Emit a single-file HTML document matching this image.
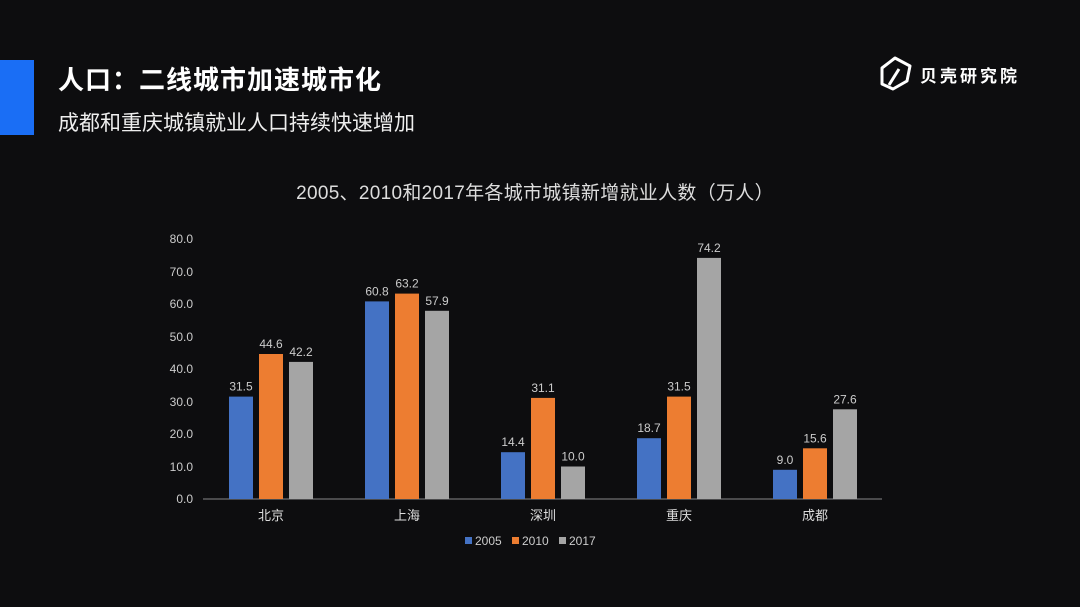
<!DOCTYPE html>
<html><head><meta charset="utf-8"><style>
html,body{margin:0;padding:0;background:#0d0d0f;}
svg{display:block}
text{font-family:"Liberation Sans","Noto Sans CJK SC",sans-serif;}
</style></head><body>
<svg width="1080" height="607" viewBox="0 0 1080 607" xmlns="http://www.w3.org/2000/svg">
<rect width="1080" height="607" fill="#0d0d0f"/>
<rect x="0" y="60" width="34" height="75" fill="#1a6ef5"/>
<text x="58" y="89" font-size="26" font-weight="bold" fill="#fff" letter-spacing="1">人口：二线城市加速城市化</text>
<text x="58" y="130" font-size="21" fill="#eee">成都和重庆城镇就业人口持续快速增加</text>
<g fill="none" stroke="#fff" stroke-width="3" stroke-linejoin="round">
<path d="M882 84 L882 68 L895 58 L910 66 L907 81 L893 89 Z"/>
<path d="M889 85 L899 69"/>
</g>
<text x="920" y="82" font-size="17" font-weight="bold" fill="#fff" letter-spacing="3">贝壳研究院</text>
<text x="535" y="199" font-size="19" fill="#ddd" text-anchor="middle" letter-spacing="0.3">2005、2010和2017年各城市城镇新增就业人数（万人）</text>
<g font-size="12" fill="#ccc" text-anchor="end">
<text x="193" y="503">0.0</text><text x="193" y="471">10.0</text><text x="193" y="438">20.0</text><text x="193" y="406">30.0</text><text x="193" y="373">40.0</text><text x="193" y="341">50.0</text><text x="193" y="308">60.0</text><text x="193" y="276">70.0</text><text x="193" y="243">80.0</text>
</g>
<line x1="203" y1="499" x2="882" y2="499" stroke="#888" stroke-width="1"/>
<g>
<rect x="229" y="396.6" width="24" height="102.4" fill="#4472c4"/>
<rect x="259" y="354" width="24" height="145" fill="#ed7d31"/>
<rect x="289" y="361.9" width="24" height="137.1" fill="#a5a5a5"/>
<rect x="365" y="301.4" width="24" height="197.6" fill="#4472c4"/>
<rect x="395" y="293.6" width="24" height="205.4" fill="#ed7d31"/>
<rect x="425" y="310.8" width="24" height="188.2" fill="#a5a5a5"/>
<rect x="501" y="452.2" width="24" height="46.8" fill="#4472c4"/>
<rect x="531" y="397.9" width="24" height="101.1" fill="#ed7d31"/>
<rect x="561" y="466.5" width="24" height="32.5" fill="#a5a5a5"/>
<rect x="637" y="438.2" width="24" height="60.8" fill="#4472c4"/>
<rect x="667" y="396.6" width="24" height="102.4" fill="#ed7d31"/>
<rect x="697" y="257.9" width="24" height="241.1" fill="#a5a5a5"/>
<rect x="773" y="469.8" width="24" height="29.2" fill="#4472c4"/>
<rect x="803" y="448.3" width="24" height="50.7" fill="#ed7d31"/>
<rect x="833" y="409.3" width="24" height="89.7" fill="#a5a5a5"/>
</g>
<g font-size="12" fill="#ccc" text-anchor="middle">
<text x="241" y="390.6">31.5</text><text x="271" y="348">44.6</text><text x="301" y="355.9">42.2</text>
<text x="377" y="295.4">60.8</text><text x="407" y="287.6">63.2</text><text x="437" y="304.8">57.9</text>
<text x="513" y="446.2">14.4</text><text x="543" y="391.9">31.1</text><text x="573" y="460.5">10.0</text>
<text x="649" y="432.2">18.7</text><text x="679" y="390.6">31.5</text><text x="709" y="251.9">74.2</text>
<text x="785" y="463.8">9.0</text><text x="815" y="442.3">15.6</text><text x="845" y="403.3">27.6</text>
</g>
<g font-size="13" fill="#ddd" text-anchor="middle">
<text x="271" y="520">北京</text><text x="407" y="520">上海</text><text x="543" y="520">深圳</text><text x="679" y="520">重庆</text><text x="815" y="520">成都</text>
</g>
<g font-size="12" fill="#ccc">
<rect x="465" y="537" width="7" height="7" fill="#4472c4"/><text x="475" y="545">2005</text>
<rect x="512" y="537" width="7" height="7" fill="#ed7d31"/><text x="522" y="545">2010</text>
<rect x="559" y="537" width="7" height="7" fill="#a5a5a5"/><text x="569" y="545">2017</text>
</g>
</svg>
</body></html>
